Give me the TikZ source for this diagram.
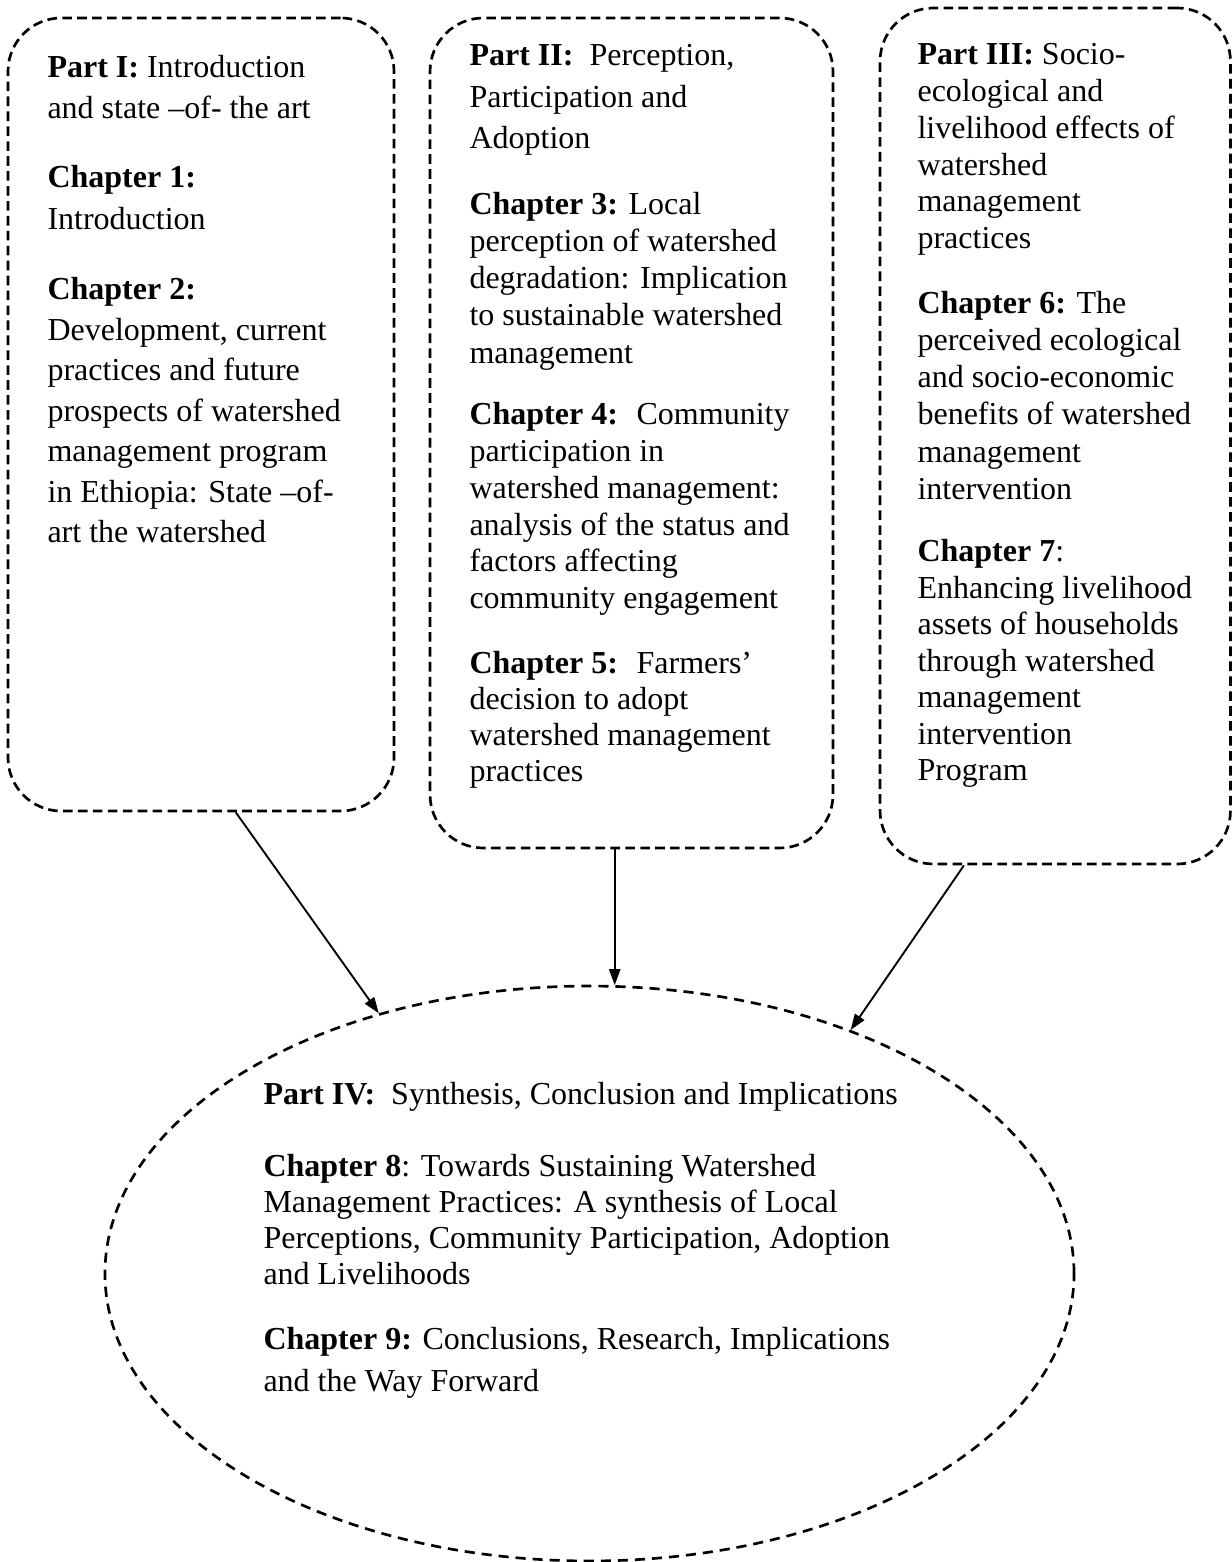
\documentclass[tikz,border=0pt]{standalone}
\usepackage{fontspec}
\setmainfont{Liberation Serif}
\usetikzlibrary{arrows.meta,shapes.geometric}

\tikzset{
  part/.style={draw, line width=1pt, dash pattern=on 3.6pt off 2pt, rounded corners=20pt, inner sep=0pt},
  txt/.style={anchor=north west, inner sep=0pt, align=left, execute at begin node=\rule{0pt}{8pt}},
  lines/.style={font=\fontsize{12pt}{#1}\selectfont},
  link/.style={-{Triangle[length=6pt,width=4.2pt]}, line width=0.7pt}
}

\begin{document}
\begin{tikzpicture}[x=0.375pt,y=-0.375pt]
\useasboundingbox (0,0) rectangle (1231,1562);

\node[part, minimum width=144.75pt, minimum height=297.4pt] (P1) at (201,414.5) {};
\node[part, minimum width=151.1pt, minimum height=311.25pt] (P2) at (631.5,433) {};
\node[part, minimum width=131.4pt, minimum height=321pt] (P3) at (1055.25,436) {};
\node[ellipse, draw, line width=1pt, dash pattern=on 3.8pt off 2.6pt, inner sep=0pt,
      minimum width=363.4pt, minimum height=215.6pt] (P4) at (589.5,1273.5) {};

% Part I
\node[txt, lines=15.4pt] (T1a) at (47,55) {\textbf{Part I:} Introduction\\and state –of- the art};
\node[txt, lines=15.75pt] (T1b) at (47,165) {\textbf{Chapter 1:}\\Introduction};
\node[txt, lines=15.2pt] (T1c) at (47,277) {\textbf{Chapter 2:}\\Development, current\\practices and future\\prospects of watershed\\management program\\in Ethiopia: State –of-\\art the watershed};

% Part II
\node[txt, lines=15.5pt] (T2a) at (469,44) {\textbf{Part II:}~ Perception,\\Participation and\\Adoption};
\node[txt, lines=13.9pt] (T2b) at (469,192) {\textbf{Chapter 3:} Local\\perception of watershed\\degradation: Implication\\to sustainable watershed\\management};
\node[txt, lines=13.8pt] (T2c) at (469,402) {\textbf{Chapter 4:}~ Community\\participation in\\watershed management:\\analysis of the status and\\factors affecting\\community engagement};
\node[txt, lines=13.5pt] (T2d) at (469,651) {\textbf{Chapter 5:}~ Farmers'\\decision to adopt\\watershed management\\practices};

% Part III
\node[txt, lines=13.8pt] (T3a) at (917,43) {\textbf{Part III:} Socio-\\ecological and\\livelihood effects of\\watershed\\management\\practices};
\node[txt, lines=13.9pt] (T3b) at (917,291) {\textbf{Chapter 6:} The\\perceived ecological\\and socio-economic\\benefits of watershed\\management\\intervention};
\node[txt, lines=13.7pt] (T3c) at (917,539) {\textbf{Chapter 7}:\\Enhancing livelihood\\assets of households\\through watershed\\management\\intervention\\Program};

% Part IV
\node[txt, lines=13.5pt] (T4a) at (263,1082) {\textbf{Part IV:}~ Synthesis, Conclusion and Implications};
\node[txt, lines=13.5pt] (T4b) at (263,1154) {\textbf{Chapter 8}: Towards Sustaining Watershed\\Management Practices: A synthesis of Local\\Perceptions, Community Participation, Adoption\\and Livelihoods};
\node[txt, lines=15.75pt] (T4c) at (263,1327) {\textbf{Chapter 9:} Conclusions, Research, Implications\\and the Way Forward};

\draw[link] (P1.-85) -- (P4.129);
\draw[link] (P4.85.3 |- P2.south) -- (P4.85.3);
\draw[link] (P3.-102.55) -- (P4.43);
\end{tikzpicture}
\end{document}
